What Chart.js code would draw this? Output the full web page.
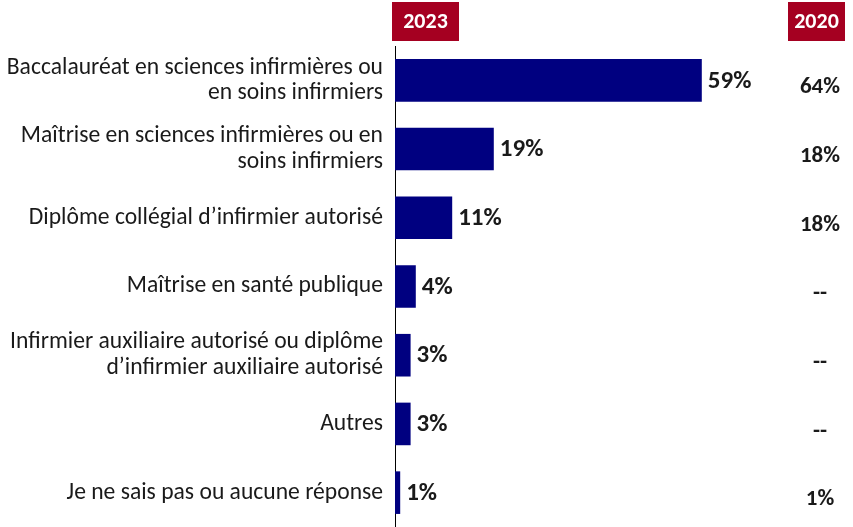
<!DOCTYPE html>
<html>
<head>
<meta charset="utf-8">
<script src="https://cdn.jsdelivr.net/npm/chart.js@4"></script>
<style>
  html, body { margin: 0; padding: 0; background: #fff; }
  #wrap { width: 853px; height: 527px; }
</style>
</head>
<body>
<div id="wrap"><canvas id="chart" width="853" height="527"></canvas></div>
<script>
// categories (multi-line like the original)
const categories = [
  ['Baccalauréat en sciences infirmières ou', 'en soins infirmiers'],
  ['Maîtrise en sciences infirmières ou en', 'soins infirmiers'],
  'Diplôme collégial d’infirmier autorisé',
  'Maîtrise en santé publique',
  ['Infirmier auxiliaire autorisé ou diplôme', 'd’infirmier auxiliaire autorisé'],
  'Autres',
  'Je ne sais pas ou aucune réponse'
];
const values2023 = [59, 19, 11, 4, 3, 3, 1];
const labels2020 = ['64%', '18%', '18%', '--', '--', '--', '1%'];
const headers = ['2023', '2020'];

const FONT = "Carlito, Calibri, Lato, 'Open Sans', sans-serif";
const NAVY = '#000080';
const RED = '#A50021';

// value labels, year headers and the 2020 column
const extras = {
  id: 'extras',
  afterDatasetsDraw(chart) {
    const ctx = chart.ctx;
    const meta = chart.getDatasetMeta(0);
    const area = chart.chartArea;
    ctx.save();
    ctx.fillStyle = '#1a1a1a';
    ctx.textBaseline = 'middle';
    meta.data.forEach((bar, i) => {
      ctx.font = 'bold 25px ' + FONT;
      ctx.textAlign = 'left';
      ctx.fillText(values2023[i] + '%', bar.x + 6, bar.y + 1);
      ctx.font = 'bold 23px ' + FONT;
      ctx.textAlign = 'center';
      ctx.fillText(labels2020[i], 820, bar.y + 7);
    });

    // header boxes
    const boxes = [
      { x: area.left - 3, w: 67, text: headers[0] },
      { x: 788, w: 57, text: headers[1] }
    ];
    boxes.forEach(b => {
      ctx.fillStyle = RED;
      ctx.fillRect(b.x, 2, b.w, 39);
      ctx.fillStyle = '#fff';
      ctx.font = 'bold 22px ' + FONT;
      ctx.textAlign = 'center';
      ctx.fillText(b.text, b.x + b.w / 2, 22);
    });
    ctx.restore();
  }
};

new Chart(document.getElementById('chart'), {
  type: 'bar',
  data: {
    labels: categories,
    datasets: [{
      label: '2023',
      data: values2023,
      backgroundColor: NAVY,
      barPercentage: 0.62,
      categoryPercentage: 1
    }]
  },
  options: {
    indexAxis: 'y',
    responsive: false,
    animation: false,
    layout: { padding: { top: 46, right: 94, bottom: 0, left: 0 } },
    plugins: {
      legend: { display: false },
      tooltip: { enabled: false }
    },
    scales: {
      x: {
        display: false,
        min: 0,
        max: 70
      },
      y: {
        afterFit(scale) {
          scale.width = 395;
          scale.paddingTop = 0;
          scale.paddingBottom = 0;
        },
        grid: { display: false, drawTicks: false },
        border: { display: true, color: '#000', width: 1 },
        ticks: {
          color: '#1a1a1a',
          font: { family: FONT, size: 23.6, lineHeight: 1.08 },
          padding: 12
        }
      }
    }
  },
  plugins: [extras]
});
</script>
</body>
</html>
